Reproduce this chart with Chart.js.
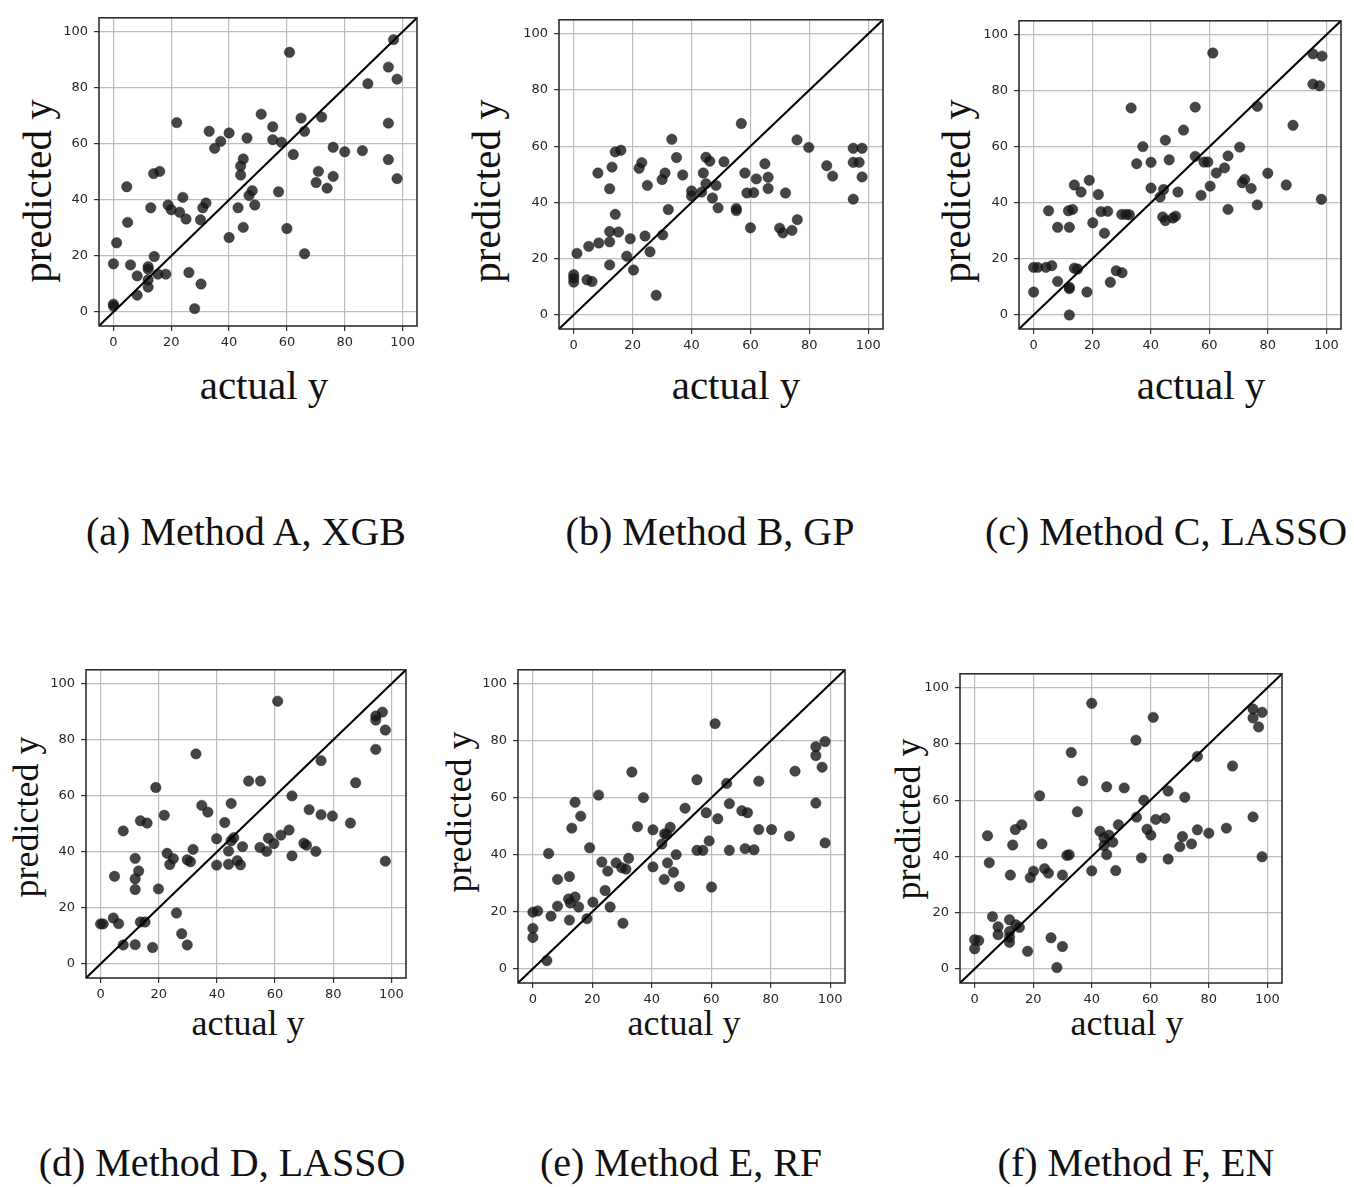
<!DOCTYPE html>
<html><head><meta charset="utf-8">
<script src="https://cdn.jsdelivr.net/npm/chart.js@4.4.1/dist/chart.umd.min.js"></script>
<style>
html,body{margin:0;padding:0;background:#fff}
body{width:1354px;height:1187px;position:relative;overflow:hidden}
canvas{position:absolute}
.t{position:absolute;font-family:"Liberation Serif","Times New Roman",serif;color:#111;line-height:1;white-space:nowrap}
.cap{font-size:40px;transform:translateX(-50%)}
.xt{transform:translateX(-50%)}
.yt{transform:translate(-50%,-50%) rotate(-90deg)}
.top{font-size:41px}
.bot{font-size:36px}
</style></head><body>

<div class="t top yt" style="left:37px;top:191px">predicted y</div>
<div class="t top yt" style="left:486px;top:191px">predicted y</div>
<div class="t top yt" style="left:956px;top:191px">predicted y</div>
<div class="t top xt" style="left:264px;top:365px">actual y</div>
<div class="t top xt" style="left:736px;top:365px">actual y</div>
<div class="t top xt" style="left:1201px;top:365px">actual y</div>
<div class="t cap" style="left:246px;top:512px">(a) Method A, XGB</div>
<div class="t cap" style="left:710px;top:512px">(b) Method B, GP</div>
<div class="t cap" style="left:1166px;top:512px">(c) Method C, LASSO</div>

<div class="t bot yt" style="left:26px;top:817px">predicted y</div>
<div class="t bot yt" style="left:459px;top:812px">predicted y</div>
<div class="t bot yt" style="left:908px;top:819px">predicted y</div>
<div class="t bot xt" style="left:248px;top:1005px">actual y</div>
<div class="t bot xt" style="left:684px;top:1005px">actual y</div>
<div class="t bot xt" style="left:1127px;top:1005px">actual y</div>
<div class="t cap" style="left:222px;top:1143px">(d) Method D, LASSO</div>
<div class="t cap" style="left:681px;top:1143px">(e) Method E, RF</div>
<div class="t cap" style="left:1136px;top:1143px">(f) Method F, EN</div>

<script>
// ---- tick labels and axis range ----
const tickValues = [0, 20, 40, 60, 80, 100];
const axisRange = [-5, 105];

// ---- (a) Method A, XGB ----
const aActual = [96.9,60.9,95.1,98.1,88.0,21.9,51.1,64.9,72.0,95.1,
  33.1,40.0,55.1,66.1,46.2,37.1,55.1,58.1,35.0,62.2,
  76.0,80.0,86.1,95.1,44.9,44.0,44.0,13.9,16.0,70.9,
  76.0,70.1,73.9,98.1,4.6,48.0,46.9,57.1,24.0,32.0,
  30.9,18.9,20.0,12.9,22.9,25.1,30.1,43.1,48.9,4.9,
  44.9,60.0,40.0,1.1,66.1,14.1,0.0,5.9,12.0,12.0,
  8.2,15.4,18.1,26.1,12.0,12.0,30.3,8.2,0.0,0.0,28.1];
const aPredicted = [97.2,92.7,87.4,83.1,81.5,67.6,70.6,69.2,69.6,67.4,
  64.5,63.9,66.1,64.5,62.1,60.9,61.5,60.6,58.4,56.2,
  58.8,57.2,57.6,54.4,54.6,52.1,48.9,49.4,50.2,50.2,
  48.4,46.2,44.2,47.6,44.7,43.3,41.6,42.9,40.9,38.9,
  37.2,38.2,36.5,37.2,35.6,33.2,32.9,37.2,38.2,32.0,
  30.2,29.8,26.6,24.7,20.8,19.8,17.2,16.8,16.2,15.3,
  12.9,13.5,13.5,14.1,11.5,8.9,10.0,6.0,2.8,2.1,1.2];

// ---- (b) Method B, GP ----
const bActual = [56.9,33.3,75.8,14.1,16.0,79.8,94.9,97.9,34.9,44.9,
  46.2,51.0,23.1,22.2,13.0,8.2,31.0,30.0,37.0,44.0,
  58.1,64.9,62.0,66.0,66.0,85.9,87.9,94.9,96.9,97.9,
  94.9,25.0,12.2,44.9,48.3,40.0,43.4,40.0,47.1,58.8,
  61.1,71.9,49.0,55.2,55.2,32.1,14.1,60.0,69.9,71.0,
  74.1,75.9,12.2,15.2,12.2,8.5,5.1,19.2,24.2,30.2,
  1.1,18.0,25.9,12.2,20.3,0.0,0.0,0.0,4.5,6.2,28.0];
const bPredicted = [68.1,62.5,62.3,58.0,58.6,59.6,59.3,59.3,56.0,56.1,
  54.7,54.5,54.2,52.2,52.6,50.5,50.5,48.2,49.8,50.5,
  50.5,53.8,48.4,49.0,45.0,53.1,49.4,54.3,54.3,49.1,
  41.2,46.1,44.9,46.7,46.1,44.1,43.7,42.3,41.6,43.4,
  43.5,43.4,38.1,37.9,37.1,37.5,35.8,31.0,30.9,29.2,
  30.1,33.9,29.7,29.5,26.0,25.6,24.4,27.1,28.1,28.5,
  21.9,20.9,22.5,17.8,16.0,14.3,13.1,11.7,12.5,11.9,7.0];

// ---- (c) Method C, LASSO ----
const cActual = [61.2,95.4,98.5,95.4,97.7,33.3,55.2,76.4,88.6,51.2,
  45.0,37.3,70.4,55.2,46.3,35.2,40.1,58.2,59.5,66.4,
  65.2,62.4,72.1,71.3,74.3,80.0,86.3,98.3,76.4,66.4,
  60.3,57.2,49.3,44.4,40.1,43.2,19.0,13.9,16.2,22.1,
  5.1,11.9,13.3,23.0,25.3,30.1,31.6,32.7,44.1,45.0,
  47.6,48.5,8.2,12.2,20.2,24.2,0.0,1.4,4.2,6.2,
  13.9,15.0,28.2,30.2,8.2,26.2,12.2,12.2,0.0,18.2,12.2];
const cPredicted = [93.5,93.2,92.4,82.4,81.8,73.9,74.2,74.5,67.7,66.0,
  62.4,60.1,59.9,56.6,55.4,54.0,54.5,54.6,54.6,56.8,
  52.5,50.7,48.4,47.2,45.2,50.6,46.4,41.3,39.3,37.7,
  46.0,42.7,43.9,44.8,45.3,42.1,48.1,46.4,43.9,43.0,
  37.2,37.2,37.7,36.9,37.0,35.9,35.9,35.8,35.0,33.7,
  34.6,35.3,31.3,31.3,32.9,29.2,17.0,17.0,17.0,17.6,
  16.7,16.4,15.8,15.1,12.0,11.7,9.9,9.4,8.2,8.2,0.0];

// ---- (d) Method D, LASSO ----
const dActual = [60.9,96.9,94.6,94.6,97.9,94.6,32.8,75.8,50.9,55.0,
  87.7,19.0,65.8,34.8,36.9,44.9,71.7,75.8,79.7,85.9,
  21.9,13.7,16.0,7.8,42.7,39.9,44.9,45.8,48.8,54.8,
  57.1,57.7,59.6,62.0,64.8,69.9,70.8,74.0,65.8,97.9,
  31.8,22.9,25.0,23.8,29.8,30.9,39.9,44.0,44.0,47.0,
  48.1,11.9,13.1,11.9,11.9,19.9,4.8,26.1,4.4,6.2,
  0.0,0.9,13.7,15.3,27.9,7.8,11.9,17.9,29.8];
const dPredicted = [93.8,89.9,88.5,87.1,83.5,76.6,75.0,72.6,65.3,65.3,
  64.7,63.0,60.0,56.6,54.2,57.3,55.1,53.3,52.8,50.3,
  53.1,51.1,50.3,47.5,50.5,44.7,44.0,45.1,41.9,41.6,
  40.2,44.9,43.0,46.0,47.8,43.1,42.4,40.2,38.6,36.7,
  40.9,39.5,37.6,35.5,37.2,36.5,35.3,40.3,35.6,36.9,
  35.4,37.7,33.2,30.4,26.6,26.8,31.3,18.2,16.4,14.4,
  14.3,14.3,15.0,15.0,10.8,6.8,6.9,5.9,6.8];

// ---- (e) Method E, RF ----
const eActual = [61.3,98.3,95.2,95.2,97.3,88.2,33.3,55.2,65.2,76.0,
  22.1,37.2,14.2,95.2,66.1,51.2,58.3,70.3,72.2,62.2,
  16.1,13.1,35.2,40.4,44.3,46.2,45.1,43.4,59.3,76.0,
  80.3,86.3,98.3,55.2,57.2,66.1,71.4,74.4,19.1,5.3,
  48.2,32.2,28.0,23.2,25.2,29.9,31.3,40.4,45.3,47.3,
  44.2,49.3,60.1,8.3,12.3,24.3,12.0,14.2,12.6,8.3,
  15.4,20.2,26.0,0.0,1.6,6.1,12.3,18.2,30.3,0.0,0.0,4.7];
const ePredicted = [86.1,79.8,78.0,74.9,70.8,69.4,69.1,66.4,65.1,65.9,
  61.0,60.1,58.5,58.2,58.0,56.4,54.8,55.5,54.8,52.7,
  53.6,49.4,49.9,48.8,47.4,49.7,47.2,43.8,44.9,48.9,
  48.9,46.6,44.2,41.6,41.6,41.6,42.2,41.8,42.5,40.5,
  40.1,38.8,37.2,37.5,34.3,35.5,35.0,35.8,37.2,33.9,
  31.4,28.9,28.7,31.4,32.4,27.5,24.5,25.2,23.1,22.0,
  21.7,23.4,21.7,19.9,20.3,18.5,17.1,17.6,16.0,14.2,11.0,2.9];

// ---- (f) Method F, EN ----
const fActual = [40.0,61.0,95.1,98.2,95.1,97.0,55.1,33.0,76.1,88.1,
  36.9,45.1,51.1,66.1,71.8,22.2,57.8,35.1,55.3,61.9,
  65.0,95.1,49.1,16.1,13.9,4.4,42.8,44.2,45.9,47.2,
  44.2,58.9,60.2,71.0,76.1,80.0,86.0,70.1,74.1,13.0,
  23.0,45.1,31.5,32.3,57.0,66.1,98.2,5.0,20.1,19.0,
  23.9,25.2,30.0,12.2,40.0,48.2,6.1,11.9,8.0,8.0,
  14.1,15.3,11.9,11.9,0.0,1.4,0.0,18.1,26.1,30.0,28.1,11.9];
const fPredicted = [94.5,89.5,92.5,91.3,89.3,86.1,81.4,77.0,75.6,72.2,
  66.9,64.8,64.4,63.3,61.1,61.6,60.0,55.9,54.0,53.2,
  53.6,54.1,51.3,51.3,49.6,47.4,49.0,46.7,47.6,45.1,
  43.9,49.7,47.6,47.1,49.5,48.3,50.1,43.5,44.5,44.1,
  44.5,40.7,40.4,40.6,39.5,39.1,39.9,37.8,34.8,32.5,
  35.7,34.1,33.4,33.4,34.9,35.0,18.6,17.5,15.0,12.2,
  15.7,14.8,13.3,9.5,10.4,10.1,7.2,6.3,11.1,8.0,0.5,11.3];

// ---- layout: plot-area boxes on the page (left, top, right, bottom) ----
const panels = [
  {actual: aActual, predicted: aPredicted, box: [99, 14, 417, 326]},
  {actual: bActual, predicted: bPredicted, box: [559, 16, 883, 329]},
  {actual: cActual, predicted: cPredicted, box: [1019, 17, 1341, 329]},
  {actual: dActual, predicted: dPredicted, box: [86, 666, 406, 978]},
  {actual: eActual, predicted: ePredicted, box: [518, 666, 845, 983]},
  {actual: fActual, predicted: fPredicted, box: [960, 670, 1282, 983]}
];

const Y_W = 45, PAD_T = 10, PAD_R = 15, X_H = 40;

const framePlugin = {
  id: 'frame',
  afterDraw(chart) {
    const a = chart.chartArea, ctx = chart.ctx;
    ctx.save();
    ctx.strokeStyle = '#222';
    ctx.lineWidth = 1.5;
    ctx.strokeRect(a.left, a.top, a.right - a.left, a.bottom - a.top);
    ctx.restore();
  }
};

function axis(isX) {
  return {
    type: 'linear',
    min: axisRange[0],
    max: axisRange[1],
    afterBuildTicks: s => { s.ticks = tickValues.map(v => ({value: v})); },
    afterFit: s => { if (isX) s.height = X_H; else s.width = Y_W; },
    grid: {color: '#bdbdbd', lineWidth: 1.2, tickLength: 5, tickColor: '#333', drawTicks: true},
    border: {display: false},
    ticks: {color: '#262626', padding: isX ? 4 : 6, font: {family: 'DejaVu Sans', size: 13}, maxRotation: 0, autoSkip: false}
  };
}

panels.forEach(p => {
  const [L, T, R, B] = p.box;
  const cv = document.createElement('canvas');
  const w = Y_W + (R - L) + PAD_R, h = PAD_T + (B - T) + X_H;
  cv.width = w; cv.height = h;
  cv.style.left = (L - Y_W) + 'px';
  cv.style.top = (T - PAD_T) + 'px';
  cv.style.width = w + 'px'; cv.style.height = h + 'px';
  document.body.appendChild(cv);
  new Chart(cv, {
    type: 'scatter',
    data: {
      datasets: [
        {
          type: 'line',
          data: axisRange.map(v => ({x: v, y: v})),
          borderColor: '#000', borderWidth: 2, pointRadius: 0, fill: false, tension: 0
        },
        {
          data: p.actual.map((x, i) => ({x: x, y: p.predicted[i]})),
          backgroundColor: 'rgba(22,22,22,0.8)', borderColor: 'rgba(22,22,22,0.85)',
          borderWidth: 0.5, pointRadius: 5.2, pointHoverRadius: 5.2
        }
      ]
    },
    options: {
      responsive: false,
      animation: false,
      devicePixelRatio: 1,
      layout: {padding: {top: PAD_T, right: PAD_R, left: 0, bottom: 0}},
      plugins: {legend: {display: false}, tooltip: {enabled: false}},
      events: [],
      scales: {x: axis(true), y: axis(false)}
    },
    plugins: [framePlugin]
  });
});
</script>
</body></html>
